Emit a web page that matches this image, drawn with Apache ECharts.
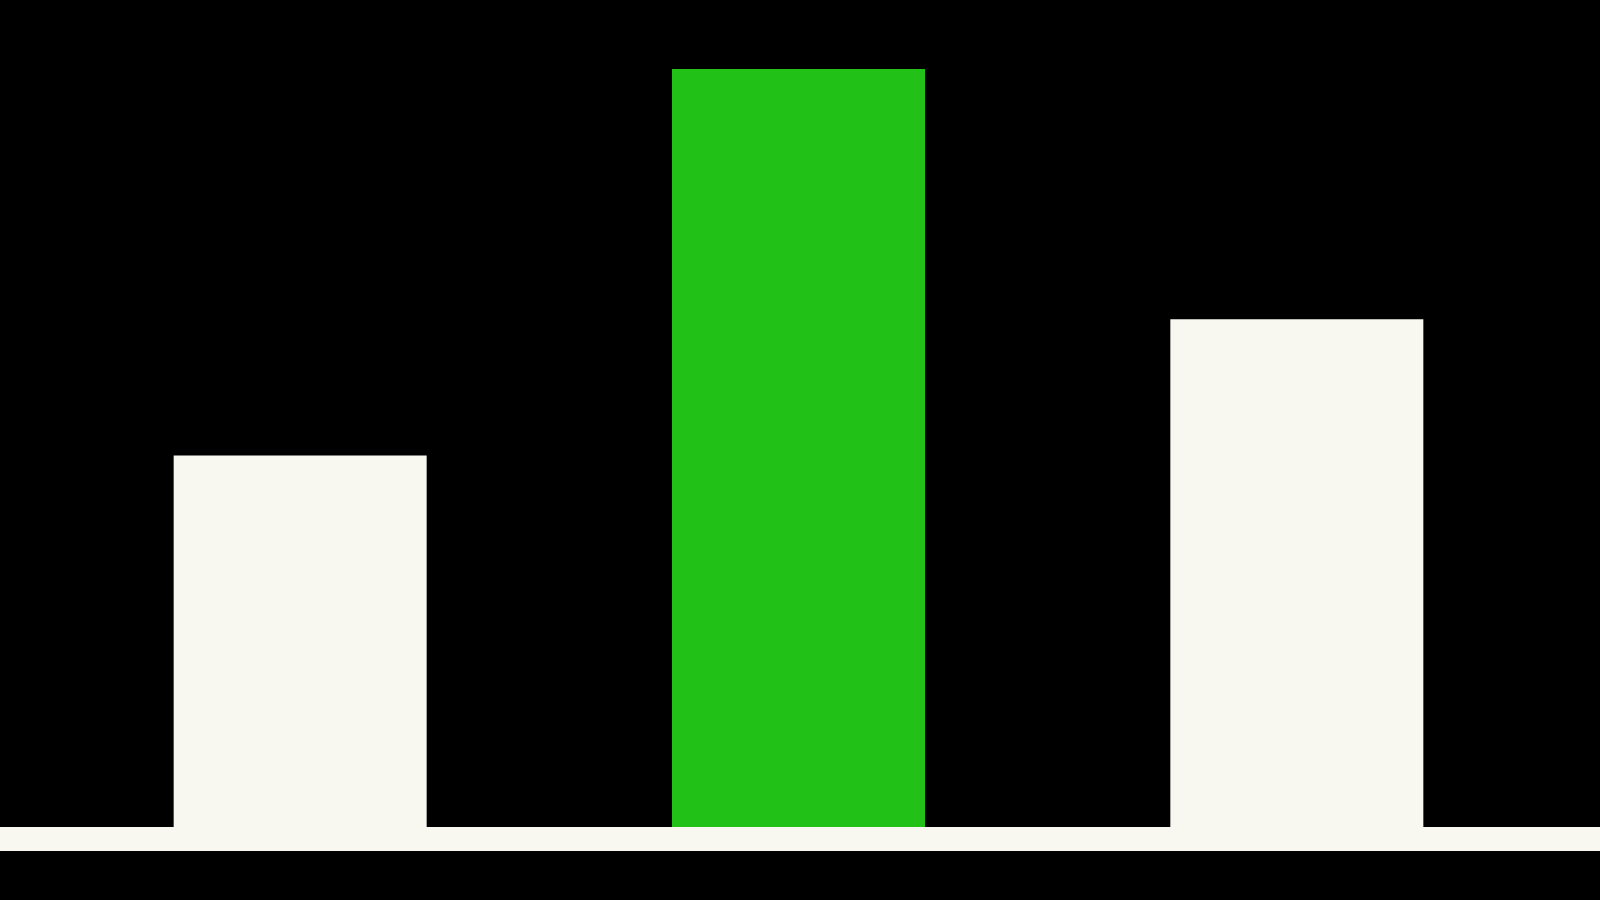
<!DOCTYPE html>
<html><head><meta charset="utf-8">
<script src="https://cdn.jsdelivr.net/npm/echarts@6/dist/echarts.min.js"></script>
<style>html,body{margin:0;padding:0;background:#000;}#c{width:1600px;height:900px;}</style>
</head><body><div id="c"></div>
<script>
const categories = ['A', 'B', 'C'];
const values = [49, 100, 67];
const barColors = ['#f9f8f0', '#21c118', '#f9f8f0'];

const chart = echarts.init(document.getElementById('c'));
chart.setOption({
  backgroundColor: '#000000',
  animation: false,
  grid: { left: 51, right: 54, top: 69, bottom: 73 },
  xAxis: {
    type: 'category', data: categories,
    axisLine: { show: false }, axisTick: { show: false }, axisLabel: { show: false }
  },
  yAxis: {
    type: 'value', min: 0, max: 100,
    axisLine: { show: false }, axisTick: { show: false }, axisLabel: { show: false },
    splitLine: { show: false }
  },
  graphic: [{
    type: 'rect', left: 0, top: 827, z: 0,
    shape: { width: 1600, height: 24 },
    style: { fill: '#f9f8f0' }
  }],
  series: [{
    type: 'bar', barWidth: 253,
    data: values.map((v, i) => ({ value: v, itemStyle: { color: barColors[i] } }))
  }]
});
</script></body></html>
